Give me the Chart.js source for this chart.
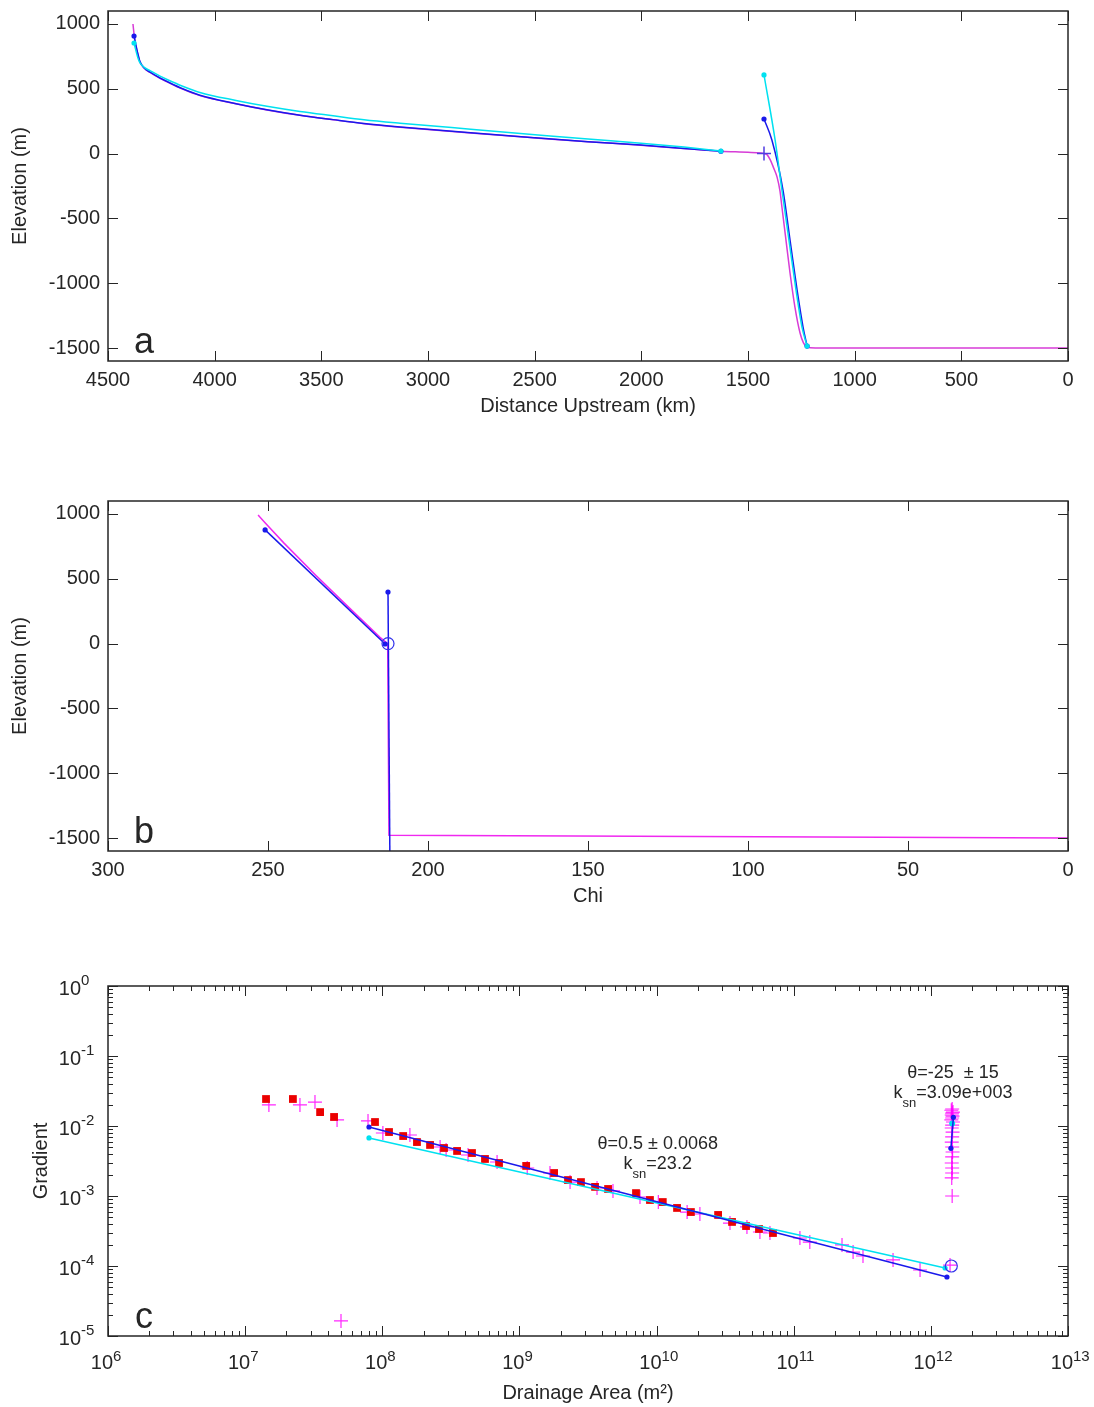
<!DOCTYPE html>
<html>
<head>
<meta charset="utf-8">
<script src="https://cdn.jsdelivr.net/npm/chart.js@4.4.1/dist/chart.umd.min.js"></script>
<style>
  body { margin: 0; background: #fff; }
  #wrap { position: relative; width: 1094px; height: 1407px; }
  canvas { position: absolute; left: 0; }
</style>
</head>
<body>
<div id="wrap">
  <canvas id="chart-a" width="1094" height="440" style="top:0px"></canvas>
  <canvas id="chart-b" width="1094" height="440" style="top:490px"></canvas>
  <canvas id="chart-c" width="1094" height="432" style="top:975px"></canvas>
</div>
<script>
// ---- panel a: long profile ----
const distTicks = [4500, 4000, 3500, 3000, 2500, 2000, 1500, 1000, 500, 0];
const elevTicks = [-1500, -1000, -500, 0, 500, 1000];

const profDist = [4383, 4375, 4360, 4350, 4330, 4303, 4256, 4223, 4150, 4069, 3900, 3755, 3600, 3445, 3300, 3131, 2800, 2498, 2250, 2002, 1800, 1627, 1500, 1440, 1425, 1411, 1395, 1380, 1364, 1350, 1341, 1322, 1303, 1280, 1256, 1240, 1225, 1209, 1150, 0];
const profElev = [1000, 880, 765, 705, 658, 626, 580, 553, 497, 447, 384, 337, 295, 261, 231, 204, 159, 121, 91, 65, 39, 18, 10, 4, 0, -8, -50, -110, -180, -290, -412, -667, -921, -1184, -1384, -1460, -1490, -1498, -1500, -1500];

const blueDist1 = [4378, 4360, 4350, 4330, 4303, 4256, 4223, 4150, 4069, 3900, 3755, 3600, 3445, 3300, 3131, 2800, 2498, 2250, 2002, 1800, 1627];
const blueElev1 = [907, 770, 710, 660, 628, 583, 556, 500, 450, 385, 338, 296, 262, 232, 205, 160, 122, 92, 66, 40, 18];
const blueDist2 = [1425, 1388, 1336, 1303, 1270, 1242, 1223];
const blueElev2 = [267, 105, -281, -667, -1052, -1338, -1485];

const cyanDist1 = [4378, 4360, 4350, 4330, 4303, 4256, 4223, 4150, 4069, 3900, 3755, 3600, 3445, 3300, 3131, 2800, 2498, 2250, 2002, 1800, 1627];
const cyanElev1 = [853, 740, 700, 665, 640, 598, 572, 520, 472, 410, 365, 325, 292, 262, 235, 188, 146, 112, 80, 50, 20];
const cyanDist2 = [1425, 1373, 1341, 1308, 1275, 1247, 1223];
const cyanElev2 = [607, 105, -281, -667, -1052, -1338, -1485];

const knickDist = [1425];
const knickElev = [0];

// ---- panel b: chi plot ----
const chiTicks = [300, 250, 200, 150, 100, 50, 0];
const chiProf = [253.1, 251, 245, 235, 225, 215, 212.6, 212.2, 0];
const chiProfElev = [992, 935, 775, 525, 285, 48, 0, -1478, -1500];
const chiBlue1 = [250.9, 213.4];
const chiBlue1Elev = [877, -3];
const chiBlue2 = [212.5, 211.9];
const chiBlue2Elev = [398, -1700];
const chiKnick = [212.5];
const chiKnickElev = [0];

// ---- panel c: slope-area ----
const areaTicks = [1e6, 1e7, 1e8, 1e9, 1e10, 1e11, 1e12, 1e13];
const gradTicks = [1e-5, 1e-4, 1e-3, 1e-2, 1e-1, 1];

const binArea = [1.42e7, 2.23e7, 3.52e7, 4.45e7, 8.85e7, 1.12e8, 1.42e8, 1.79e8, 2.23e8, 2.82e8, 3.51e8, 4.51e8, 5.61e8, 7.10e8, 1.12e9, 1.79e9, 2.26e9, 2.81e9, 3.56e9, 4.43e9, 7.08e9, 8.95e9, 1.11e10, 1.41e10, 1.78e10, 2.81e10, 3.55e10, 4.49e10, 5.58e10, 7.06e10];
const binGrad = [0.0243, 0.0243, 0.0158, 0.01346, 0.0114, 0.0082, 0.00719, 0.0059, 0.00536, 0.00485, 0.0044, 0.00411, 0.00338, 0.00296, 0.00269, 0.00213, 0.00169, 0.00158, 0.00135, 0.00126, 0.0011, 0.000877, 0.00082, 0.000675, 0.00059, 0.000536, 0.000426, 0.000372, 0.000338, 0.000296];

const rawArea = [1.49e7, 2.51e7, 3.23e7, 4.68e7, 5.0e7, 7.87e7, 1.01e8, 1.59e8, 2.64e8, 2.92e8, 4.22e8, 6.87e8, 1.14e9, 1.67e9, 2.34e9, 3.68e9, 4.81e9, 7.57e9, 1.03e10, 1.67e10, 2.07e10, 3.43e10, 4.56e10, 5.67e10, 6.71e10, 1.11e11, 1.31e11, 2.25e11, 2.71e11, 3.2e11, 5.3e11, 8.34e11, 1.38e12,
  1.43e12, 1.41e12, 1.45e12, 1.43e12, 1.42e12, 1.44e12, 1.43e12, 1.41e12, 1.45e12, 1.43e12, 1.42e12, 1.44e12, 1.43e12, 1.42e12, 1.43e12, 1.44e12, 1.43e12, 1.42e12, 1.43e12, 1.43e12, 1.42e12, 1.43e12];
const rawGrad = [0.02, 0.02, 0.022, 0.0122, 1.64e-5, 0.0118, 0.00794, 0.00744, 0.00501, 0.00454, 0.00385, 0.00306, 0.00251, 0.00213, 0.00158, 0.0013, 0.00118, 0.000968, 0.00082, 0.00059, 0.000553, 0.000411, 0.000361, 0.000306, 0.000296, 0.000251, 0.00022, 0.0002, 0.000158, 0.000139, 0.000122, 8.77e-5, 0.000103,
  0.0175, 0.0168, 0.0158, 0.0153, 0.01436, 0.0138, 0.013, 0.0122, 0.0114, 0.0103, 0.00936, 0.0082, 0.00697, 0.0059, 0.00501, 0.00425, 0.00361, 0.00296, 0.00251, 0.00213, 0.00181, 0.001];

const fitArea = [8.0e7, 1.31e12];
const fitGrad = [0.00968, 6.96e-5];
const cyanFitArea = [8.0e7, 1.27e12];
const cyanFitGrad = [0.00675, 9.36e-5];
const fitArea2 = [1.46e12, 1.40e12];
const fitGrad2 = [0.0133, 0.0048];
const cyanArea2 = [1.43e12];
const cyanGrad2 = [0.0109];
const knickArea = [1.41e12];
const knickGrad = [1.0e-4];

const noteTheta = ['\u03b8=0.5 \u00b1 0.0068', '\u03b8=-25  \u00b1 15'];
const noteKsn = ['=23.2', '=3.09e+003'];
const noteArea = [1.02e10, 1.45e12];
const noteGrad = [0.00469, 0.0485];

// ---- styling ----
const INK = '#262626';
const FONT = "'Liberation Sans', Arial, Helvetica, sans-serif";
const MAGENTA = 'rgb(240, 40, 240)';
const BLUE = 'rgb(25, 25, 235)';
const CYAN = 'rgb(0, 225, 240)';

Chart.defaults.font.family = FONT;
Chart.defaults.color = INK;

function pts(xs, ys) {
  return xs.map((x, i) => ({ x: x, y: ys[i] }));
}

function lineSet(xs, ys, color, dots, order, smooth) {
  const n = xs.length;
  const set = {
    data: pts(xs, ys),
    showLine: true,
    borderColor: color,
    backgroundColor: color,
    borderWidth: 1.5,
    pointBorderWidth: 0,
    pointRadius: (c) => {
      if (dots === 'ends' && (c.dataIndex === 0 || c.dataIndex === n - 1)) return 2.6;
      if (dots === 'first' && c.dataIndex === 0) return 2.6;
      return 0;
    },
    tension: 0,
    order: order
  };
  if (smooth) set.cubicInterpolationMode = 'monotone';
  return set;
}

function markSet(xs, ys, style, stroke, fill, radius, width, order) {
  return {
    data: pts(xs, ys),
    showLine: false,
    pointStyle: style,
    pointRadius: radius,
    borderColor: stroke,
    backgroundColor: fill,
    pointBorderColor: stroke,
    pointBackgroundColor: fill,
    pointBorderWidth: width,
    order: order
  };
}

function axis(o) {
  return {
    type: o.type || 'linear',
    min: o.min,
    max: o.max,
    reverse: !!o.reverse,
    grid: { display: false, drawTicks: false },
    border: { display: false },
    afterBuildTicks: (s) => { s.ticks = o.ticks.map((v) => ({ value: v })); },
    afterFit: (s) => {
      if (o.isX) s.height = o.size; else s.width = o.size;
      // no extra room for labels hanging past the ends
      s.paddingTop = 0; s.paddingBottom = 0; s.paddingLeft = 0; s.paddingRight = 0;
    },
    ticks: {
      display: o.labels !== false,
      font: { size: 20 },
      color: INK,
      padding: o.pad,
      autoSkip: false,
      maxRotation: 0,
      callback: (v) => String(v)
    },
    title: { display: true, text: o.title, font: { size: 20 }, color: INK, padding: o.titlePad }
  };
}

function minorsOf(majors) {
  const out = [];
  for (let i = 0; i < majors.length - 1; i++) {
    for (let k = 2; k <= 9; k++) out.push(majors[i] * k);
  }
  return out;
}

// box, inward ticks, panel letter, and log labels
const framePlugin = {
  id: 'frame',
  afterDraw(chart, args, opts) {
    const { ctx, chartArea: a, scales } = chart;
    const xs = scales.x, ys = scales.y;
    ctx.save();
    ctx.strokeStyle = INK;
    ctx.lineWidth = 1;
    ctx.beginPath();
    const tickX = (vals, len) => vals.forEach((v) => {
      const p = Math.round(xs.getPixelForValue(v)) + 0.5;
      ctx.moveTo(p, a.bottom); ctx.lineTo(p, a.bottom - len);
      ctx.moveTo(p, a.top); ctx.lineTo(p, a.top + len);
    });
    const tickY = (vals, len) => vals.forEach((v) => {
      const p = Math.round(ys.getPixelForValue(v)) + 0.5;
      ctx.moveTo(a.left, p); ctx.lineTo(a.left + len, p);
      ctx.moveTo(a.right, p); ctx.lineTo(a.right - len, p);
    });
    tickX(opts.xMajor, 10);
    tickY(opts.yMajor, 10);
    if (opts.xMinor) tickX(opts.xMinor, 5);
    if (opts.yMinor) tickY(opts.yMinor, 5);
    ctx.stroke();
    ctx.lineWidth = 1.5;
    ctx.strokeRect(a.left, a.top, a.right - a.left, a.bottom - a.top);

    ctx.fillStyle = INK;
    ctx.textBaseline = 'alphabetic';
    ctx.textAlign = 'center';
    ctx.font = '36px ' + FONT;
    ctx.fillText(opts.letter, a.left + 36, a.bottom - 8);

    if (opts.logLabels) {
      const base = '20px ' + FONT, sup = '15px ' + FONT;
      opts.xMajor.forEach((v) => {
        const p = xs.getPixelForValue(v);
        const e = String(Math.round(Math.log10(v)));
        ctx.font = base; ctx.textAlign = 'right';
        ctx.fillText('10', p + 5, a.bottom + 33);
        ctx.font = sup; ctx.textAlign = 'left';
        ctx.fillText(e, p + 5, a.bottom + 25);
      });
      opts.yMajor.forEach((v) => {
        const p = ys.getPixelForValue(v);
        const e = String(Math.round(Math.log10(v)));
        ctx.font = base; ctx.textAlign = 'right';
        ctx.fillText('10', a.left - 27, p + 9);
        ctx.font = sup; ctx.textAlign = 'left';
        ctx.fillText(e, a.left - 27, p - 1);
      });
    }
    ctx.restore();
  }
};

const notesPlugin = {
  id: 'notes',
  afterDatasetsDraw(chart) {
    const { ctx, scales } = chart;
    ctx.save();
    ctx.fillStyle = INK;
    ctx.textBaseline = 'alphabetic';
    noteTheta.forEach((t, i) => {
      const px = scales.x.getPixelForValue(noteArea[i]);
      const py = scales.y.getPixelForValue(noteGrad[i]);
      ctx.font = '18px ' + FONT;
      ctx.textAlign = 'center';
      ctx.fillText(t, px, py);
      // k with subscript sn
      ctx.textAlign = 'left';
      ctx.font = '18px ' + FONT;
      const wk = ctx.measureText('k').width;
      const wv = ctx.measureText(noteKsn[i]).width;
      ctx.font = '13px ' + FONT;
      const ws = ctx.measureText('sn').width;
      const x0 = px - (wk + ws + wv) / 2;
      const by = py + 20;
      ctx.font = '18px ' + FONT;
      ctx.fillText('k', x0, by);
      ctx.font = '13px ' + FONT;
      ctx.fillText('sn', x0 + wk, by + 9);
      ctx.font = '18px ' + FONT;
      ctx.fillText(noteKsn[i], x0 + wk + ws, by);
    });
    ctx.restore();
  }
};

function baseOptions(scales, frame) {
  return {
    responsive: false,
    animation: false,
    layout: { padding: { top: 11, right: 26, left: 0, bottom: 0 } },
    plugins: { legend: { display: false }, tooltip: { enabled: false }, frame: frame },
    scales: scales
  };
}

// PANEL A ----------------------------------------------
new Chart(document.getElementById('chart-a'), {
  type: 'scatter',
  data: {
    datasets: [
      markSet(knickDist, knickElev, 'cross', 'rgb(80, 60, 225)', 'rgb(80, 60, 225)', 7, 1.5, 0),
      lineSet(cyanDist1, cyanElev1, CYAN, 'ends', 1, true),
      lineSet(cyanDist2, cyanElev2, CYAN, 'ends', 1, true),
      lineSet(blueDist1, blueElev1, BLUE, 'ends', 2, true),
      lineSet(blueDist2, blueElev2, BLUE, 'ends', 2, true),
      lineSet(profDist, profElev, 'rgb(215, 60, 215)', null, 3, true)
    ]
  },
  options: baseOptions({
    x: axis({ min: 0, max: 4500, reverse: true, ticks: distTicks, isX: true, size: 79, pad: 7,
      title: 'Distance Upstream (km)', titlePad: { top: 0, bottom: 22 } }),
    y: axis({ min: -1600, max: 1100, ticks: elevTicks, size: 108, pad: 8,
      title: 'Elevation (m)', titlePad: { top: 8, bottom: 0 } })
  }, { xMajor: distTicks, yMajor: elevTicks, letter: 'a' }),
  plugins: [framePlugin]
});

// PANEL B ----------------------------------------------
new Chart(document.getElementById('chart-b'), {
  type: 'scatter',
  data: {
    datasets: [
      markSet(chiKnick, chiKnickElev, 'circle', 'rgb(50, 50, 235)', 'rgba(0,0,0,0)', 6, 1.2, 0),
      lineSet(chiBlue1, chiBlue1Elev, BLUE, 'ends', 1),
      lineSet(chiBlue2, chiBlue2Elev, BLUE, 'first', 1),
      lineSet(chiProf, chiProfElev, MAGENTA, null, 2)
    ]
  },
  options: baseOptions({
    x: axis({ min: 0, max: 300, reverse: true, ticks: chiTicks, isX: true, size: 79, pad: 7,
      title: 'Chi', titlePad: { top: 0, bottom: 22 } }),
    y: axis({ min: -1600, max: 1100, ticks: elevTicks, size: 108, pad: 8,
      title: 'Elevation (m)', titlePad: { top: 8, bottom: 0 } })
  }, { xMajor: chiTicks, yMajor: elevTicks, letter: 'b' }),
  plugins: [framePlugin]
});

// PANEL C ----------------------------------------------
new Chart(document.getElementById('chart-c'), {
  type: 'scatter',
  data: {
    datasets: [
      markSet(knickArea, knickGrad, 'circle', 'rgb(50, 50, 235)', 'rgba(0,0,0,0)', 6, 1.2, 0),
      lineSet(fitArea2, fitGrad2, BLUE, 'ends', 1),
      markSet(cyanArea2, cyanGrad2, 'circle', CYAN, CYAN, 3, 0, 1),
      lineSet(fitArea, fitGrad, BLUE, 'ends', 2),
      lineSet(cyanFitArea, cyanFitGrad, CYAN, 'ends', 3),
      markSet(binArea, binGrad, 'rect', 'rgb(235, 0, 0)', 'rgb(235, 0, 0)', 5.5, 0, 4),
      markSet(rawArea, rawGrad, 'cross', 'rgba(255, 0, 255, 0.85)', 'rgba(255, 0, 255, 0.85)', 7, 1.2, 5)
    ]
  },
  options: baseOptions({
    x: axis({ type: 'logarithmic', min: 1e6, max: 1e13, ticks: areaTicks, isX: true, size: 71, labels: false,
      title: 'Drainage Area (m\u00b2)', titlePad: { top: 0, bottom: 2 } }),
    y: axis({ type: 'logarithmic', min: 1e-5, max: 1, ticks: gradTicks, size: 108, labels: false,
      title: 'Gradient', titlePad: { top: 29, bottom: 0 } })
  }, { xMajor: areaTicks, yMajor: gradTicks, xMinor: minorsOf(areaTicks), yMinor: minorsOf(gradTicks), letter: 'c', logLabels: true }),
  plugins: [framePlugin, notesPlugin]
});
</script>
</body>
</html>
